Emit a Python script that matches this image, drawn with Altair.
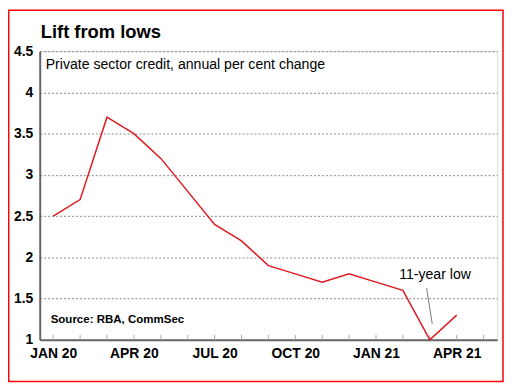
import altair as alt
import pandas as pd

months = ["JAN 20", "FEB 20", "MAR 20", "APR 20", "MAY 20", "JUN 20", "JUL 20", "AUG 20",
          "SEP 20", "OCT 20", "NOV 20", "DEC 20", "JAN 21", "FEB 21", "MAR 21", "APR 21"]
values = [2.5, 2.7, 3.7, 3.5, 3.2, 2.8, 2.4, 2.2, 1.9, 1.8, 1.7, 1.8, 1.7, 1.6, 1.0, 1.3]
tick_months = list(range(17))
label_months = [0, 3, 6, 9, 12, 15]
label_names = ["JAN 20", "APR 20", "JUL 20", "OCT 20", "JAN 21", "APR 21"]
y_ticks = [1, 1.5, 2, 2.5, 3, 3.5, 4, 4.5]

df = pd.DataFrame({"m": list(range(len(months))), "month": months, "value": values})
ticks_df = pd.DataFrame({"m": tick_months})
one = pd.DataFrame({"a": [0]})

W, H = 461, 291
FONT = "Liberation Sans"

label_expr = " : ".join(
    [f"datum.value == {m} ? '{n}'" for m, n in zip(label_months, label_names)]
) + " : ''"

xscale = alt.Scale(domain=[-0.5, 16.5], nice=False, zero=False)
yscale = alt.Scale(domain=[1, 4.5], nice=False, zero=False)

line = alt.Chart(df).mark_line(color="#e0191f", strokeWidth=1.5).encode(
    x=alt.X("m:Q", scale=xscale,
            axis=alt.Axis(values=label_months, labelExpr=label_expr, title=None, grid=False,
                          ticks=False, domainColor="#666", domainWidth=2,
                          labelFont=FONT, labelFontSize=14, labelFontWeight="bold",
                          labelColor="#000", labelPadding=7)),
    y=alt.Y("value:Q", scale=yscale,
            axis=alt.Axis(values=y_ticks, format="~g", title=None, grid=True,
                          gridColor="#888", gridDash=[2, 2], gridWidth=1,
                          ticks=False, domainColor="#666", domainWidth=2,
                          labelFont=FONT, labelFontSize=14, labelFontWeight="bold",
                          labelColor="#000", labelPadding=7)),
)

tick_rules = alt.Chart(ticks_df).mark_rule(color="#aaa", strokeWidth=1).encode(
    x=alt.X("m:Q", scale=xscale),
    y=alt.value(H),
    y2=alt.value(H - 5),
)

def txt(text, x, y, size, weight="normal", align="left"):
    return alt.Chart(one).mark_text(
        text=text, font=FONT, fontSize=size, fontWeight=weight, align=align,
        baseline="alphabetic", color="#000"
    ).encode(x=alt.value(x), y=alt.value(y))

title = txt("Lift from lows", 1, -13, 18.5, "bold")
subtitle = txt("Private sector credit, annual per cent change", 6, 18, 14.2)
source = txt("Source: RBA, CommSec", 11, 274, 11.6, "bold")
note = txt("11-year low", 398.5, 230, 14.2, align="center")

pointer = alt.Chart(one).mark_rule(color="#777", strokeWidth=1).encode(
    x=alt.value(390), y=alt.value(239), x2=alt.value(395.7), y2=alt.value(275)
)

frame = alt.Chart(one).mark_rect(fill=None, stroke="#ff0000", strokeWidth=1.5).encode(
    x=alt.value(-31.3), x2=alt.value(467), y=alt.value(-41.3), y2=alt.value(333)
)

chart = alt.layer(frame, tick_rules, line, pointer, title, subtitle, source, note).properties(
    width=W, height=H,
    autosize=alt.AutoSizeParams(type="none"),
    padding={"left": 32, "top": 42, "right": 7, "bottom": 43},
).configure_view(stroke="#888", strokeWidth=1).configure(background="white")

chart.save("out.html", embed_options={"renderer": "svg", "actions": False})
